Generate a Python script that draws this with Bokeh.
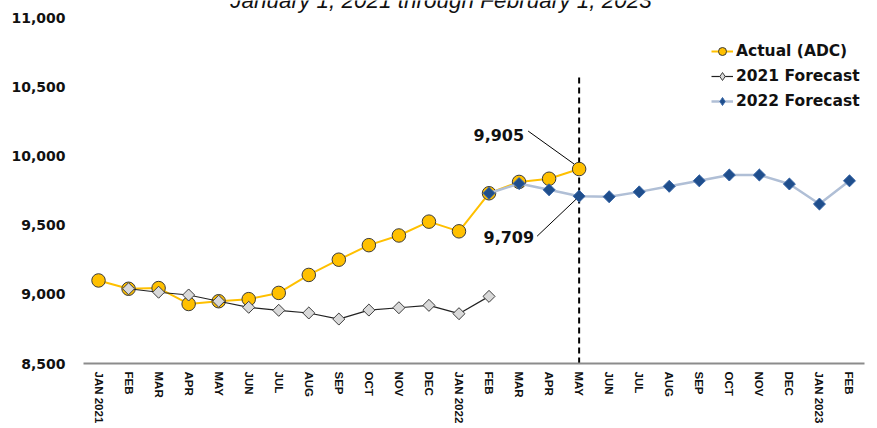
import numpy as np
from bokeh.plotting import figure
from bokeh.models import (Range1d, FixedTicker, NumeralTickFormatter, Legend, LegendItem,
                          Label, ColumnDataSource)
from bokeh.embed import file_html
from bokeh.resources import INLINE

# ---------------- data ----------------
months = ["JAN 2021", "FEB", "MAR", "APR", "MAY", "JUN", "JUL", "AUG", "SEP", "OCT", "NOV", "DEC",
          "JAN 2022", "FEB", "MAR", "APR", "MAY", "JUN", "JUL", "AUG", "SEP", "OCT", "NOV", "DEC",
          "JAN 2023", "FEB"]

actual_idx = list(range(0, 17))
actual_vals = [9100, 9040, 9045, 8930, 8950, 8965, 9010, 9140, 9250, 9355, 9425, 9525,
               9455, 9730, 9812, 9835, 9905]

fc2021_idx = list(range(1, 14))
fc2021_vals = [9040, 9015, 8995, 8950, 8906, 8884, 8865, 8821, 8886, 8903, 8920, 8860, 8985]

fc2022_idx = list(range(13, 26))
fc2022_vals = [9730, 9800, 9755, 9709, 9705, 9740, 9780, 9820, 9862, 9862, 9797, 9652, 9820]

y_ticks = [8500, 9000, 9500, 10000, 10500, 11000]
title_text = "January 1, 2021 through February 1, 2023"
divider_idx = 16
divider_top = 10580

# ---------------- figure ----------------
W, H = 877, 428
BL, BR, BT, BB = 83, 13, 0, 65
y_min, y_top_tick = 8500, 11000
axis_px = 346                      # pixels between the 8,500 and 11,000 ticks
px_y = axis_px / (y_top_tick - y_min)
frame_h = H - BT - BB
y_max = y_min + frame_h / px_y     # frame extends up to the canvas top

p = figure(width=W, height=H, output_backend="svg", toolbar_location=None,
           x_range=Range1d(-0.5, len(months) - 0.5), y_range=Range1d(y_min, y_max),
           min_border_left=BL, min_border_right=BR, min_border_top=BT, min_border_bottom=BB)
p.outline_line_color = None
p.xgrid.visible = False
p.ygrid.visible = False
p.background_fill_color = "white"

frame_w = W - BL - BR
px_x = frame_w / len(months)          # pixels per category

# y axis
p.yaxis.ticker = FixedTicker(ticks=y_ticks)
p.yaxis.formatter = NumeralTickFormatter(format="0,0")
p.yaxis.axis_line_color = None
p.yaxis.major_tick_line_color = None
p.yaxis.major_tick_out = 0
p.yaxis.major_tick_in = 0
p.yaxis.minor_tick_line_color = None
p.yaxis.minor_tick_out = 0
p.yaxis.major_label_standoff = 18
p.yaxis.major_label_text_font = "DejaVu Sans"
p.yaxis.major_label_text_font_style = "bold"
p.yaxis.major_label_text_font_size = "14px"
p.yaxis.major_label_text_color = "#111111"

# x axis
p.xaxis.ticker = FixedTicker(ticks=list(range(len(months))))
p.xaxis.major_label_overrides = {i: m for i, m in enumerate(months)}
p.xaxis.major_label_orientation = -np.pi / 2
p.xaxis.axis_line_color = "#8c8c8c"
p.xaxis.axis_line_width = 2
p.xaxis.major_tick_line_color = None
p.xaxis.major_tick_out = 0
p.xaxis.major_tick_in = 0
p.xaxis.minor_tick_line_color = None
p.xaxis.minor_tick_out = 0
p.xaxis.major_label_standoff = 8
p.xaxis.major_label_text_font = "Liberation Sans"
p.xaxis.major_label_text_font_style = "bold"
p.xaxis.major_label_text_font_size = "11.5px"
p.xaxis.major_label_text_color = "#111111"

# divider line
p.segment(x0=[divider_idx], y0=[y_min], x1=[divider_idx], y1=[divider_top],
          line_color="black", line_width=2, line_dash="6 4")

# series
src_a = ColumnDataSource(dict(x=actual_idx, y=actual_vals))
src_1 = ColumnDataSource(dict(x=fc2021_idx, y=fc2021_vals))
src_2 = ColumnDataSource(dict(x=fc2022_idx, y=fc2022_vals))

la = p.line("x", "y", source=src_a, line_color="#FFC000", line_width=2)
sa = p.scatter("x", "y", source=src_a, marker="circle", size=13.5,
               fill_color="#FFC000", line_color="#3a3a3a", line_width=1)

l1 = p.line("x", "y", source=src_1, line_color="#222222", line_width=1.2)
# narrow diamonds used by the legend; hidden beneath the wider plotted diamonds
g1 = p.scatter("x", "y", source=src_1, marker="diamond", size=11,
               fill_color="#D9D9D9", line_color="#404040", line_width=1)
s1 = p.scatter("x", "y", source=src_1, marker="square", angle=np.pi / 4, size=8.5,
               fill_color="#D9D9D9", line_color="#404040", line_width=1)

l2 = p.line("x", "y", source=src_2, line_color="#B0BFD6", line_width=2.5)
g2 = p.scatter("x", "y", source=src_2, marker="diamond", size=11,
               fill_color="#1F4E8C", line_color="#3A68A8", line_width=1)
s2 = p.scatter("x", "y", source=src_2, marker="square", angle=np.pi / 4, size=8.5,
               fill_color="#1F4E8C", line_color="#3A68A8", line_width=1)

# annotations (leader lines derived from data point + pixel offsets)
peak_x = actual_idx[-1]
peak_y = actual_vals[-1]
fc_x = divider_idx
fc_y = fc2022_vals[fc2022_idx.index(divider_idx)]

p.segment(x0=[peak_x - 51 / px_x, fc_x - 42 / px_x],
          y0=[peak_y + 38 / px_y, fc_y - 40 / px_y],
          x1=[peak_x - 5 / px_x, fc_x - 3 / px_x],
          y1=[peak_y + 5 / px_y, fc_y - 3 / px_y],
          line_color="black", line_width=1)

for (xv, yv, dx, dy) in [(peak_x, peak_y, -55, 34), (fc_x, fc_y, -45, -41)]:
    p.add_layout(Label(x=xv, y=yv, x_offset=dx, y_offset=dy, text=f"{yv:,}",
                       text_font="DejaVu Sans", text_font_style="bold",
                       text_font_size="16px", text_align="right",
                       text_baseline="middle", text_color="#111111"))

# title (partially cut at the top edge, as in the reference)
p.add_layout(Label(x=11.4, y=y_max, text=title_text,
                   text_font="Liberation Sans", text_font_style="italic",
                   text_font_size="22.5px", text_align="center",
                   text_baseline="alphabetic", text_color="#111111"))

legend = Legend(items=[LegendItem(label="Actual (ADC)", renderers=[la, sa]),
                       LegendItem(label="2021 Forecast", renderers=[l1, g1]),
                       LegendItem(label="2022 Forecast", renderers=[l2, g2])],
                location=(628, 252), orientation="vertical")
legend.border_line_color = None
legend.background_fill_alpha = 0
legend.label_text_font = "DejaVu Sans"
legend.label_text_font_style = "bold"
legend.label_text_font_size = "15.5px"
legend.label_text_color = "#111111"
legend.glyph_width = 22
legend.glyph_height = 20
legend.label_height = 20
legend.label_standoff = 3
legend.spacing = 5
legend.padding = 0
legend.margin = 0
p.add_layout(legend)

open("out.html", "w").write(file_html(p, INLINE))
